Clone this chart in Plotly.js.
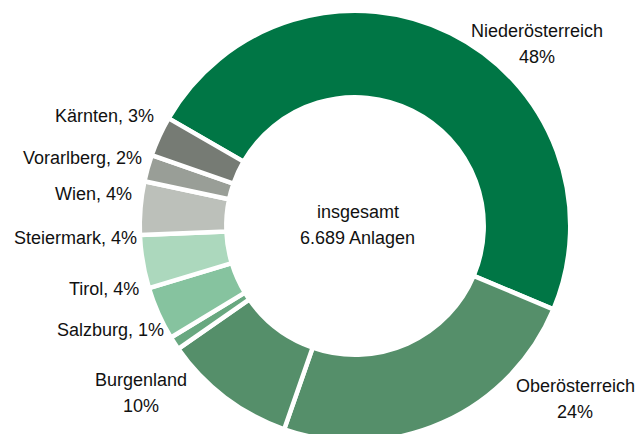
<!DOCTYPE html>
<html>
<head>
<meta charset="utf-8">
<script src="https://cdn.plot.ly/plotly-3.0.1.min.js"></script>
<style>
  html, body { margin: 0; padding: 0; background: #ffffff; overflow: hidden; }
  #frame { width: 642px; height: 434px; overflow: hidden; }
</style>
</head>
<body>
<div id="frame"><div id="chart"></div></div>
<script>
// Anlagen nach Bundesland (Anteile in %), im Uhrzeigersinn ab Niederösterreich
const regions = ["Niederösterreich", "Oberösterreich", "Burgenland", "Salzburg", "Tirol",
                 "Steiermark", "Wien", "Vorarlberg", "Kärnten"];
const shares = [48, 24, 10, 1, 4, 4, 4, 2, 3];
const totalPlants = 6689;

const sliceColors = ["#007645", "#558f6a", "#558f6a", "#68a880", "#86c39f",
                     "#acd8bd", "#bcc0ba", "#999e97", "#767b74"];

const W = 642, H = 442;
const FONT = "Liberation Sans, Arial, Helvetica, sans-serif";

// ring geometry in pixels
const cx = 355, cy = 226, R = 215.25;
const hole = 0.598;

function fmtThousands(n) {
  return String(n).replace(/\B(?=(\d{3})+(?!\d))/g, ".");
}

// label placement: [x, y, anchor, two-line]
const labelPlace = [
  [537, 31, "center", true],
  [575, 386, "center", true],
  [141, 380, "center", true],
  [166, 330, "right", false],
  [141, 289, "right", false],
  [139, 238, "right", false],
  [134, 194, "right", false],
  [144, 158, "right", false],
  [156, 116, "right", false]
];

const px = x => x / W;
const py = y => (H - y) / H;

const annotations = [];
regions.forEach((name, i) => {
  const [x, y, anchor, twoLine] = labelPlace[i];
  if (twoLine) {
    annotations.push({x: px(x), y: py(y), text: name});
    annotations.push({x: px(x), y: py(y + 26), text: shares[i] + "%"});
  } else {
    annotations.push({x: px(x), y: py(y), text: name + ", " + shares[i] + "%", xanchor: "right"});
  }
});
annotations.push({x: px(358), y: py(212), text: "insgesamt"});
annotations.push({x: px(358), y: py(238), text: fmtThousands(totalPlants) + " Anlagen"});
annotations.forEach(a => {
  a.xref = "paper"; a.yref = "paper"; a.showarrow = false;
  a.xanchor = a.xanchor || "center"; a.yanchor = "middle";
  a.font = {family: FONT, size: 18, color: "#111111"};
});

const trace = {
  type: "pie",
  labels: regions,
  values: shares,
  sort: false,
  direction: "clockwise",
  rotation: -60,
  hole: hole,
  textinfo: "none",
  hoverinfo: "label+percent",
  marker: {colors: sliceColors, line: {color: "#ffffff", width: 4.5}},
  domain: {
    x: [(cx - R) / W, (cx + R) / W],
    y: [(H - (cy + R)) / H, (H - (cy - R)) / H]
  }
};

const layout = {
  width: W,
  height: H,
  margin: {l: 0, r: 0, t: 0, b: 0},
  paper_bgcolor: "#ffffff",
  showlegend: false,
  annotations: annotations,
  font: {family: FONT}
};

Plotly.newPlot("chart", [trace], layout, {staticPlot: true, displayModeBar: false});
</script>
</body>
</html>
